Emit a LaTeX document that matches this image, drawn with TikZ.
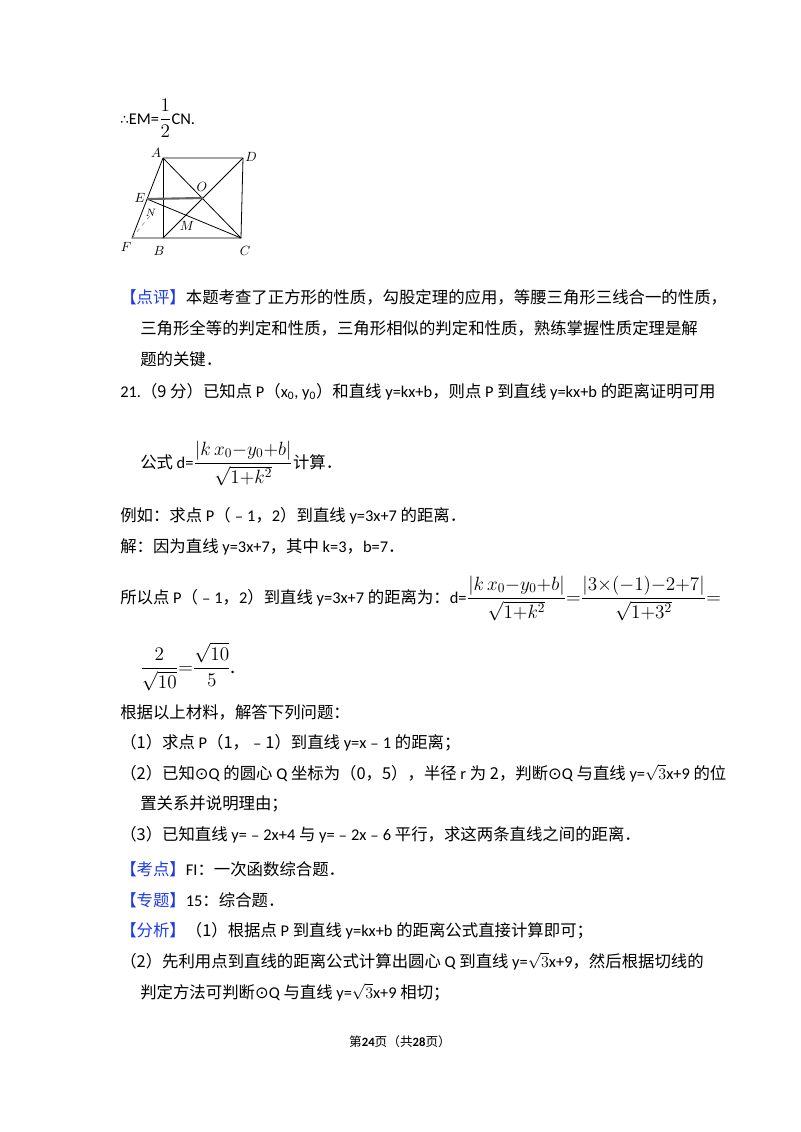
\documentclass[tikz,border=0pt]{standalone}
\usepackage{fontspec}
\setmainfont{Noto Sans CJK SC}
\newfontfamily\lat{Carlito}
\newfontfamily\dvs{DejaVu Sans}
\usepackage{amsmath}
\definecolor{kb}{RGB}{30,60,230}
\newcommand{\kw}[1]{{\color{kb}【#1】}}
\newcommand{\oQ}{{\dvs\char"2299}}
\newcommand{\mbg}[1]{{\fontsize{14}{17}\selectfont#1}}
\tikzset{t/.style={anchor=base west,inner sep=0pt,font=\fontsize{12.3}{15}\selectfont},
 pt/.style={inner sep=1pt},
 fl/.style={line width=0.6pt}}
\begin{document}
\begin{tikzpicture}[x=0.75pt,y=-0.75pt]
\useasboundingbox (0,0) rectangle (800,1132);
\fill[white] (0,0) rectangle (800,1132);
\node[t] (l0) at (120,124) {{\dvs\fontsize{10}{12}\selectfont ∴}{\lat EM=}\mbg{$\dfrac{1}{2}$}{\lat CN.}};
% figure
\coordinate (A) at (163,158); \coordinate (D) at (243,158);
\coordinate (B) at (163,238); \coordinate (C) at (241,238);
\coordinate (E) at (147,199); \coordinate (F) at (132,238);
\coordinate (O) at (203,198); \coordinate (N) at (153,212);
\draw[fl] (A)--(D)--(C)--(F)--(A); \draw[fl] (A)--(B);
\draw[fl] (A)--(C); \draw[fl] (B)--(D); \draw[fl] (E)--(C);
\draw[line width=1.6pt,gray!80!black] (E)--(O);
\draw[dashed,gray] (F)--(N);
\node[pt] (nA) at (156,153) {$A$}; \node[pt] (nD) at (251,157) {$D$};
\node[pt] (nB) at (159,251) {$B$}; \node[pt] (nC) at (245,251) {$C$};
\node[pt] (nE) at (140,198) {$E$}; \node[pt] (nF) at (126,247) {$F$};
\node[pt] (nO) at (202,187) {$O$}; \node[pt,font=\footnotesize] (nN) at (151,213) {$N$};
\node[pt] (nM) at (187,226) {$M$};
% text
\node[t] (l1) at (120,303) {\kw{点评}本题考查了正方形的性质，勾股定理的应用，等腰三角形三线合一的性质，};
\node[t] (l2) at (140,334) {三角形全等的判定和性质，三角形相似的判定和性质，熟练掌握性质定理是解};
\node[t] (l3) at (140,365) {题的关键．};
\node[t] (l4) at (120,397) {{\lat 21.}（9 分）已知点 {\lat P}（{\lat x\textsubscript{0}, y\textsubscript{0}}）和直线 {\lat y=kx+b}，则点 {\lat P} 到直线 {\lat y=kx+b} 的距离证明可用};
\node[t] (l5) at (140,468) {公式 {\lat d=}\mbg{$\dfrac{|k\,x_0{-}y_0{+}b|}{\sqrt{1{+}k^2}}$}计算．};
\node[t] (l6) at (120,521) {例如：求点 {\lat P}（﹣{\lat 1}，{\lat 2}）到直线 {\lat y=3x+7} 的距离．};
\node[t] (l7) at (120,552) {解：因为直线 {\lat y=3x+7}，其中 {\lat k=3}，{\lat b=7}．};
\node[t] (l8) at (120,603) {所以点 {\lat P}（﹣{\lat 1}，{\lat 2}）到直线 {\lat y=3x+7} 的距离为：{\lat d=}\mbg{$\dfrac{|k\,x_0{-}y_0{+}b|}{\sqrt{1{+}k^2}}{=}\dfrac{|3{\times}(-1){-}2{+}7|}{\sqrt{1{+}3^2}}{=}$}};
\node[t] (l9) at (140,673) {\mbg{$\dfrac{2}{\sqrt{10}}{=}\dfrac{\sqrt{10}}{5}$.}};
\node[t] (l10) at (120,718) {根据以上材料，解答下列问题：};
\node[t] (l11) at (120,748) {（1）求点 {\lat P}（1，﹣1）到直线 {\lat y=x}﹣{\lat 1} 的距离；};
\node[t] (l12) at (120,779) {（2）已知\oQ{\lat Q} 的圆心 {\lat Q} 坐标为（0，5），半径 {\lat r} 为 2，判断\oQ{\lat Q} 与直线 {\lat y=}$\sqrt{3}${\lat x+9} 的位};
\node[t] (l13) at (140,809) {置关系并说明理由；};
\node[t] (l14) at (120,840) {（3）已知直线 {\lat y=}﹣{\lat 2x+4} 与 {\lat y=}﹣{\lat 2x}﹣{\lat 6} 平行，求这两条直线之间的距离．};
\node[t] (l15) at (120,875) {\kw{考点}{\lat FI}：一次函数综合题．};
\node[t] (l16) at (120,906) {\kw{专题}{\lat 15}：综合题．};
\node[t] (l17) at (120,936) {\kw{分析}（1）根据点 {\lat P} 到直线 {\lat y=kx+b} 的距离公式直接计算即可；};
\node[t] (l18) at (120,967) {（2）先利用点到直线的距离公式计算出圆心 {\lat Q} 到直线 {\lat y=}$\sqrt{3}${\lat x+9}，然后根据切线的};
\node[t] (l19) at (140,998) {判定方法可判断\oQ{\lat Q} 与直线 {\lat y=}$\sqrt{3}${\lat x+9} 相切；};
\node[anchor=base,inner sep=0pt,font=\fontsize{9.5}{11}\selectfont] (ft) at (400,1046) {第\textbf{\lat 24}页（共\textbf{\lat 28}页）};
\end{tikzpicture}
\end{document}
